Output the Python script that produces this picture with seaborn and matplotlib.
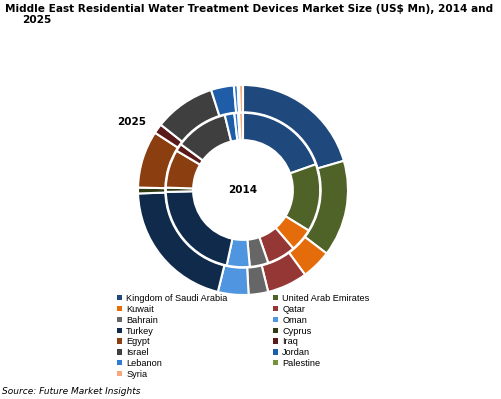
import numpy as np
import pandas as pd
import matplotlib.pyplot as plt
import seaborn as sns
from matplotlib.patches import Patch

sns.set_style("white")
plt.rcParams['font.family'] = ['DejaVu Sans']
plt.rcParams['text.color'] = 'black'

# datos (participacion aproximada en %)
paises = ['Kingdom of Saudi Arabia', 'United Arab Emirates', 'Kuwait', 'Qatar', 'Bahrain',
          'Oman', 'Turkey', 'Cyprus', 'Egypt', 'Iraq', 'Israel', 'Jordan', 'Lebanon',
          'Palestine', 'Syria']
valores_2025 = [20.5, 14.8, 4.6, 6.2, 3.0, 4.7, 20.6, 0.9, 8.8, 1.5, 9.4, 3.5, 0.6, 0.2, 0.6]
valores_2014 = [19.6, 14.2, 4.9, 6.0, 3.9, 4.8, 21.2, 0.9, 8.0, 1.6, 11.1, 2.0, 0.8, 0.2, 0.8]
colores = ['#1F497D', '#4F6228', '#E46C0A', '#953735', '#666666', '#4F95E0', '#0F2A4A',
           '#2E3B14', '#8B3E0F', '#5B1A1A', '#3F3F3F', '#1F5DA8', '#2E7BD6', '#76923C', '#F7A77A']

W, H = 501, 399
fig = plt.figure(figsize=(W / 100, H / 100), dpi=100)

# ejes de la dona en pixeles: centro (243,190), radio 105
cx, cy, r = 243, 190, 105
ax = fig.add_axes([(cx - r) / W, (H - cy - r) / H, 2 * r / W, 2 * r / H])
props = dict(width=0.26, edgecolor='white', linewidth=1.5)
ax.pie(valores_2025, colors=colores, radius=1.0, startangle=90, counterclock=False,
       wedgeprops=props)
ax.pie(valores_2014, colors=colores, radius=0.735, startangle=90, counterclock=False,
       wedgeprops=props)
ax.set_xlim(-1, 1)
ax.set_ylim(-1, 1)
ax.set_aspect('equal')
ax.axis('off')

ax.text(0, 0, '2014', ha='center', va='center', fontsize=7.5, fontweight='bold')
fig.text(132 / W, 1 - 122 / H, '2025', ha='center', va='center', fontsize=7.5, fontweight='bold')

# titulo
fig.text(5 / W, 1 - 4 / H, 'Middle East Residential Water Treatment Devices Market Size (US$ Mn), 2014 and',
         ha='left', va='top', fontsize=7.6, fontweight='bold')
fig.text(22 / W, 1 - 15 / H, '2025', ha='left', va='top', fontsize=7.6, fontweight='bold')

# leyenda en dos columnas, por filas
handles = [Patch(facecolor=c, edgecolor='none') for c in colores]
izq = list(range(0, len(paises), 2))
der = list(range(1, len(paises), 2))
for idx, x0 in [(izq, 117), (der, 273)]:
    fig.legend([handles[i] for i in idx], [paises[i] for i in idx],
               loc='upper left', bbox_to_anchor=(x0 / W, 1 - 294 / H), frameon=False,
               prop={'family': 'Liberation Sans', 'size': 6.6},
               labelspacing=0.2, handlelength=0.5, handleheight=0.5,
               handletextpad=0.5, borderaxespad=0, borderpad=0)

fig.text(2 / W, 1 - 392 / H, 'Source: Future Market Insights', ha='left', va='center',
         fontsize=6.5, style='italic')

fig.savefig('out.png', dpi=100)
